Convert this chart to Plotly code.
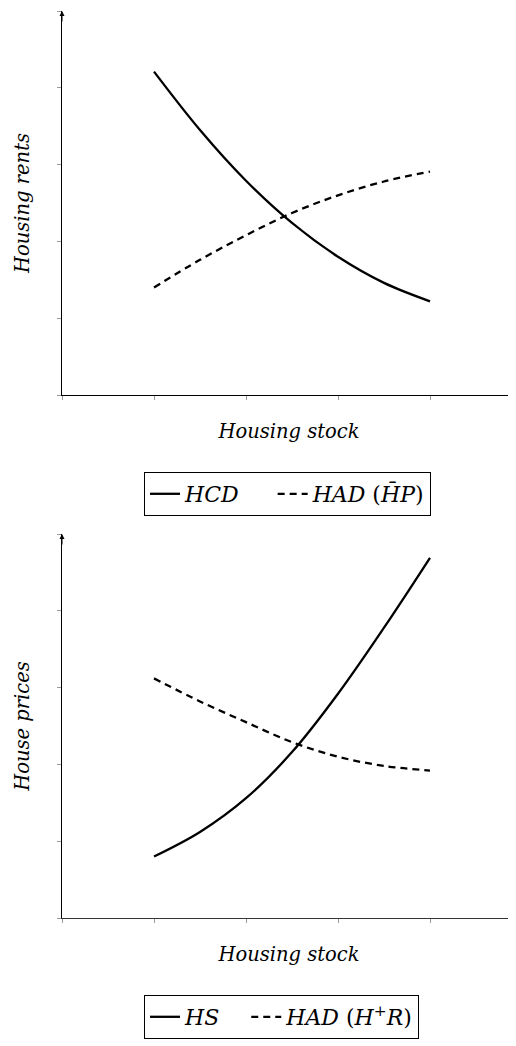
import plotly.graph_objects as go

# ---- data ----
x_pts = [1, 1.5, 2, 2.5, 3, 3.5, 4]
hcd = [4.21, 3.45, 2.79, 2.24, 1.80, 1.46, 1.22]
had_top = [1.40, 1.76, 2.08, 2.37, 2.60, 2.78, 2.91]
hs = [0.80, 1.12, 1.56, 2.16, 2.92, 3.78, 4.69]
had_bot = [3.12, 2.82, 2.55, 2.29, 2.10, 1.98, 1.92]
tick_vals = [0, 1, 2, 3, 4, 5]

# the page body adds an 8px offset, so the figure is drawn 8px smaller
OFF = 8
W, H = 516 - OFF, 1046 - OFF
FONT = "DejaVu Serif"
NB = "\u00a0"


def px_x(p):
    return (p - OFF) / W


def py(p):
    return 1 - (p - OFF) / H


fig = go.Figure()
fig.add_trace(go.Scatter(x=x_pts, y=hcd, mode="lines",
                         line=dict(color="black", width=2.3, shape="spline"),
                         name="<i>HCD</i>" + NB * 4, xaxis="x", yaxis="y", legend="legend"))
fig.add_trace(go.Scatter(x=x_pts, y=had_top, mode="lines",
                         line=dict(color="black", width=2.3, dash="7px,5px", shape="spline"),
                         name="<i>HAD</i> (<i>H\u0304P</i>)", xaxis="x", yaxis="y", legend="legend"))
fig.add_trace(go.Scatter(x=x_pts, y=hs, mode="lines",
                         line=dict(color="black", width=2.3, shape="spline"),
                         name="<i>HS</i>" + NB * 3, xaxis="x2", yaxis="y2", legend="legend2"))
fig.add_trace(go.Scatter(x=x_pts, y=had_bot, mode="lines",
                         line=dict(color="black", width=2.3, dash="7px,5px", shape="spline"),
                         name="<i>HAD</i> (<i>H</i><sup>+</sup><i>R</i>)", xaxis="x2", yaxis="y2",
                         legend="legend2"))

xdom = [px_x(62), 1]
xr = [0, (516 - 62) / 92]
top_dom = [py(395), py(11)]
bot_dom = [py(918), py(534)]

tick_style = dict(tickcolor="#9a9a9a", tickwidth=1, showticklabels=False, showgrid=False,
                  zeroline=False, automargin=False)
title_font = dict(family=FONT, size=19.5, color="black", style="italic")


def main_axis(**kw):
    d = dict(tickvals=tick_vals, ticks="outside", ticklen=4, showline=True,
             linecolor="black", linewidth=1.3, **tick_style)
    d.update(kw)
    return d


def overlay_axis(**kw):
    d = dict(tickvals=tick_vals, ticks="inside", ticklen=4, showline=False, **tick_style)
    d.update(kw)
    return d


legend_common = dict(orientation="h", xanchor="left", yanchor="top",
                     bordercolor="black", borderwidth=1, bgcolor="white",
                     font=dict(family=FONT, size=22, color="black"), itemwidth=30)

fig.update_layout(
    width=W, height=H, margin=dict(l=0, r=0, t=0, b=0),
    paper_bgcolor="white", plot_bgcolor="white",
    font=dict(family=FONT, color="black"),
    xaxis=main_axis(domain=xdom, range=xr, anchor="y",
                    title=dict(text="Housing stock", font=title_font, standoff=25)),
    yaxis=main_axis(domain=top_dom, range=[0, 5], anchor="x",
                    title=dict(text="Housing rents", font=title_font, standoff=22)),
    xaxis3=overlay_axis(overlaying="x", range=xr, anchor="y"),
    yaxis3=overlay_axis(overlaying="y", range=[0, 5], anchor="x"),
    xaxis2=main_axis(domain=xdom, range=xr, anchor="y2", linecolor="#333333",
                     title=dict(text="Housing stock", font=title_font, standoff=25)),
    yaxis2=main_axis(domain=bot_dom, range=[0, 5], anchor="x2",
                     title=dict(text="House prices", font=title_font, standoff=22)),
    xaxis4=overlay_axis(overlaying="x2", range=xr, anchor="y2"),
    yaxis4=overlay_axis(overlaying="y2", range=[0, 5], anchor="x2"),
    legend=dict(x=px_x(144), y=py(472), **legend_common),
    legend2=dict(x=px_x(144), y=py(995), **legend_common),
    annotations=[
        dict(x=0, y=5, xref="x", yref="y", text="", showarrow=True, ax=0, ay=12,
             arrowhead=2, arrowsize=1, arrowwidth=1, arrowcolor="black"),
        dict(x=0, y=5, xref="x2", yref="y2", text="", showarrow=True, ax=0, ay=12,
             arrowhead=2, arrowsize=1, arrowwidth=1, arrowcolor="black"),
    ],
)
fig.write_html("out.html")
